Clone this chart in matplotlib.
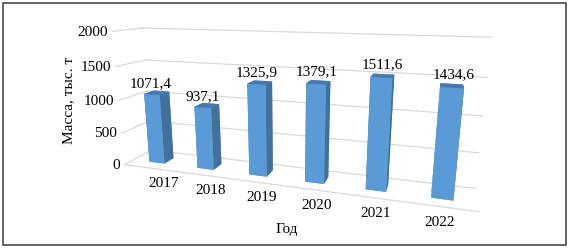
import numpy as np
import matplotlib.pyplot as plt
from matplotlib.patches import Rectangle

plt.rcParams['font.family'] = ['Liberation Serif', 'DejaVu Serif']

years = ['2017', '2018', '2019', '2020', '2021', '2022']
values = [1071.4, 937.1, 1325.9, 1379.1, 1511.6, 1434.6]
labels = ['1071,4', '937,1', '1325,9', '1379,1', '1511,6', '1434,6']
z_ticks = [0, 500, 1000, 1500, 2000]

front_c = '#5B9BD5'
side_c = '#41719C'
top_c = '#4677AE'
grid_c = '#D9D9D9'

fig = plt.figure(figsize=(5.71, 2.51), dpi=100)
ax = fig.add_axes([0.03, 0.11, 0.94, 0.89], projection='3d',
                  proj_type='persp', focal_length=0.38)
ax.set_axis_off()
ax.set_xticks([])
ax.set_yticks([])
ax.set_zticks([])
ax.view_init(elev=14, azim=-72)
ax.set_box_aspect((6, 0.85, 2.4), zoom=1.72)

n = len(values)
x = np.arange(n)
ax.set_xlim(-0.5, n - 0.5)
ax.set_ylim(0, 1)
ax.set_zlim(0, 2000)

# walls gridlines
for z in z_ticks:
    ax.plot([-0.5, n - 0.5], [1, 1], [z, z], color=grid_c, lw=0.9,
            clip_on=False)
    ax.plot([-0.5, -0.5], [0, 1], [z, z], color=grid_c, lw=0.9,
            clip_on=False)
ax.plot([-0.5, n - 0.5], [0, 0], [0, 0], color=grid_c, lw=0.9, clip_on=False)

# bars
w, d = 0.32, 0.36
colors = []
for _ in range(n):
    colors += [front_c, top_c, front_c, front_c, side_c, side_c]
bars = ax.bar3d(x - w / 2, np.full(n, 0.5 - d / 2), np.zeros(n), w, d, values,
                color=colors, shade=False, edgecolor='none')
bars.set_clip_on(False)

# data labels
for xi, v, s in zip(x, values, labels):
    ax.text(xi, 0.32, v + 170, s, ha='center', va='center', fontsize=11)

# tick labels
for z in z_ticks:
    ax.text(-0.6, 0, z, str(z), ha='right', va='center', fontsize=11)
for xi, s in zip(x, years):
    ax.text(xi, 0.5, -380, s, ha='center', va='center', fontsize=11)

fig.text(0.502, 0.085, 'Год', ha='center', va='center', fontsize=11)
fig.text(0.12, 0.6, 'Масса, тыс. т', ha='center', va='center',
         rotation=90, fontsize=11)

fig.patches.append(Rectangle((0.006, 0.02), 0.986, 0.966,
                             transform=fig.transFigure, fill=False,
                             edgecolor='#595959', lw=1.3))

fig.savefig('out.png', dpi=100)
